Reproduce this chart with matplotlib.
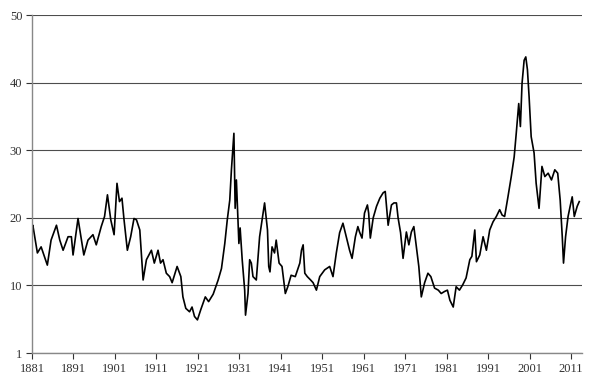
import matplotlib.pyplot as plt

# Cyclically adjusted P/E
years = [1881.0, 1881.2, 1882.3, 1883.2, 1884.7, 1885.6, 1886.9, 1887.7, 1888.5, 1889.7,
         1890.5, 1890.9, 1892.1, 1893.5, 1894.5, 1895.7, 1896.5, 1897.7, 1898.5, 1899.2,
         1900.0, 1900.8, 1901.5, 1902.1, 1902.7, 1903.2, 1904.0, 1904.8, 1905.6, 1906.2,
         1907.0, 1907.8, 1908.6, 1909.8, 1910.5, 1911.4, 1912.0, 1912.6, 1913.4, 1914.2,
         1914.8, 1916.0, 1916.9, 1917.4, 1918.1, 1919.0, 1919.6, 1920.2, 1920.9, 1921.7,
         1922.8, 1923.6, 1924.7, 1925.9, 1926.7, 1927.5, 1928.1, 1928.7, 1929.1, 1929.7,
         1930.0, 1930.3, 1930.9, 1931.2, 1931.7, 1932.3, 1932.5, 1933.1, 1933.5, 1933.9,
         1934.3, 1935.1, 1935.9, 1936.5, 1937.1, 1937.8, 1938.1, 1938.4, 1938.9, 1939.5,
         1939.9, 1940.6, 1941.3, 1942.1, 1942.7, 1943.5, 1944.5, 1945.6, 1946.0, 1946.4,
         1946.8, 1947.4, 1948.2, 1948.8, 1949.6, 1950.4, 1951.6, 1952.8, 1953.6, 1954.4,
         1955.2, 1956.0, 1956.8, 1957.6, 1958.2, 1959.0, 1959.6, 1960.0, 1960.6, 1961.2,
         1961.9, 1962.2, 1962.6, 1963.3, 1964.1, 1964.9, 1965.7, 1966.2, 1966.9, 1967.7,
         1968.3, 1968.9, 1969.3, 1969.9, 1970.5, 1971.3, 1971.9, 1972.5, 1973.1, 1973.7,
         1974.3, 1974.9, 1975.7, 1976.5, 1977.2, 1978.1, 1979.0, 1979.7, 1980.5, 1981.2,
         1981.8, 1982.6, 1983.3, 1984.1, 1984.9, 1985.7, 1986.6, 1987.1, 1987.8, 1988.2,
         1989.0, 1989.8, 1990.6, 1991.4, 1992.2, 1993.0, 1993.8, 1994.4, 1995.0, 1995.8,
         1996.6, 1997.3, 1997.8, 1998.4, 1998.8, 1999.2, 1999.7, 2000.1, 2000.5, 2000.9,
         2001.4, 2002.1, 2002.6, 2003.3, 2004.0, 2004.7, 2005.5, 2006.3, 2007.1, 2007.8,
         2008.4, 2008.9, 2009.2, 2009.7, 2010.3, 2010.8, 2011.3, 2011.8, 2012.5, 2013.0]
cape = [18.5, 18.9, 14.8, 15.7, 13.0, 16.7, 18.9, 16.7, 15.2, 17.2,
        17.2, 14.5, 19.9, 14.5, 16.7, 17.5, 16.0, 18.7, 20.2, 23.4,
        19.7, 17.5, 25.1, 22.4, 22.9, 19.7, 15.2, 17.2, 19.9, 19.7,
        18.2, 10.8, 13.8, 15.2, 13.3, 15.2, 13.3, 13.8, 11.8, 11.3,
        10.4, 12.8, 11.3, 8.3, 6.6, 6.1, 6.8, 5.4, 4.9, 6.4,
        8.3, 7.6, 8.7, 10.8, 12.5, 16.2, 19.7, 22.6, 27.1, 32.5,
        21.4, 25.6, 16.2, 18.5, 13.8, 9.3, 5.6, 8.8, 13.8, 13.3,
        11.3, 10.8, 17.2, 19.7, 22.2, 18.2, 12.8, 12.0, 15.7, 14.8,
        16.7, 13.3, 12.8, 8.8, 9.8, 11.5, 11.3, 13.3, 15.2, 16.0,
        11.8, 11.3, 10.8, 10.4, 9.3, 11.3, 12.3, 12.8, 11.3, 14.8,
        17.8, 19.2, 17.2, 15.2, 14.0, 17.2, 18.7, 17.9, 17.0, 20.7,
        21.9, 20.7, 17.0, 20.0, 21.7, 22.9, 23.7, 23.9, 18.9, 21.9,
        22.2, 22.2, 20.0, 17.8, 14.0, 17.9, 16.0, 17.9, 18.7, 15.7,
        12.8, 8.3, 10.4, 11.8, 11.3, 9.6, 9.3, 8.8, 9.1, 9.3,
        7.8, 6.8, 9.8, 9.3, 10.1, 11.1, 13.8, 14.3, 18.2, 13.5,
        14.5, 17.2, 15.2, 18.2, 19.4, 20.2, 21.2, 20.4, 20.2, 23.1,
        26.1, 29.0, 32.5, 36.9, 33.5, 39.9, 43.3, 43.8, 41.9, 37.9,
        32.0, 29.6, 25.1, 21.4, 27.6, 26.1, 26.6, 25.6, 27.1, 26.6,
        22.6, 17.2, 13.3, 17.2, 20.2, 21.7, 23.1, 20.2, 21.7, 22.4]

x_ticks = list(range(1881, 2012, 10))
y_ticks = [0, 10, 20, 30, 40, 50]
y_labels = ["1", "10", "20", "30", "40", "50"]

plt.rcParams['font.family'] = ['Liberation Serif', 'DejaVu Serif']

fig = plt.figure(figsize=(5.9, 3.81), dpi=100)
ax = fig.add_axes([32 / 590, 1 - 353 / 381, 550 / 590, 338 / 381])

ax.plot(years, cape, color="black", linewidth=1.2)

ax.set_xlim(1881, 2013.66)
ax.set_ylim(0, 50)
ax.set_xticks(x_ticks)
ax.set_yticks(y_ticks)
ax.set_yticklabels(y_labels)
ax.tick_params(axis="both", labelsize=9, colors="#333333", length=4, width=0.8)
ax.tick_params(axis="x", pad=3)
ax.tick_params(axis="y", pad=3)

ax.grid(axis="y", color="#4d4d4d", linewidth=0.8)
ax.set_axisbelow(True)
for side in ["top", "right"]:
    ax.spines[side].set_visible(False)
for side in ["left", "bottom"]:
    ax.spines[side].set_color("#888888")
    ax.spines[side].set_linewidth(1.0)

fig.savefig("out.png", dpi=100)
